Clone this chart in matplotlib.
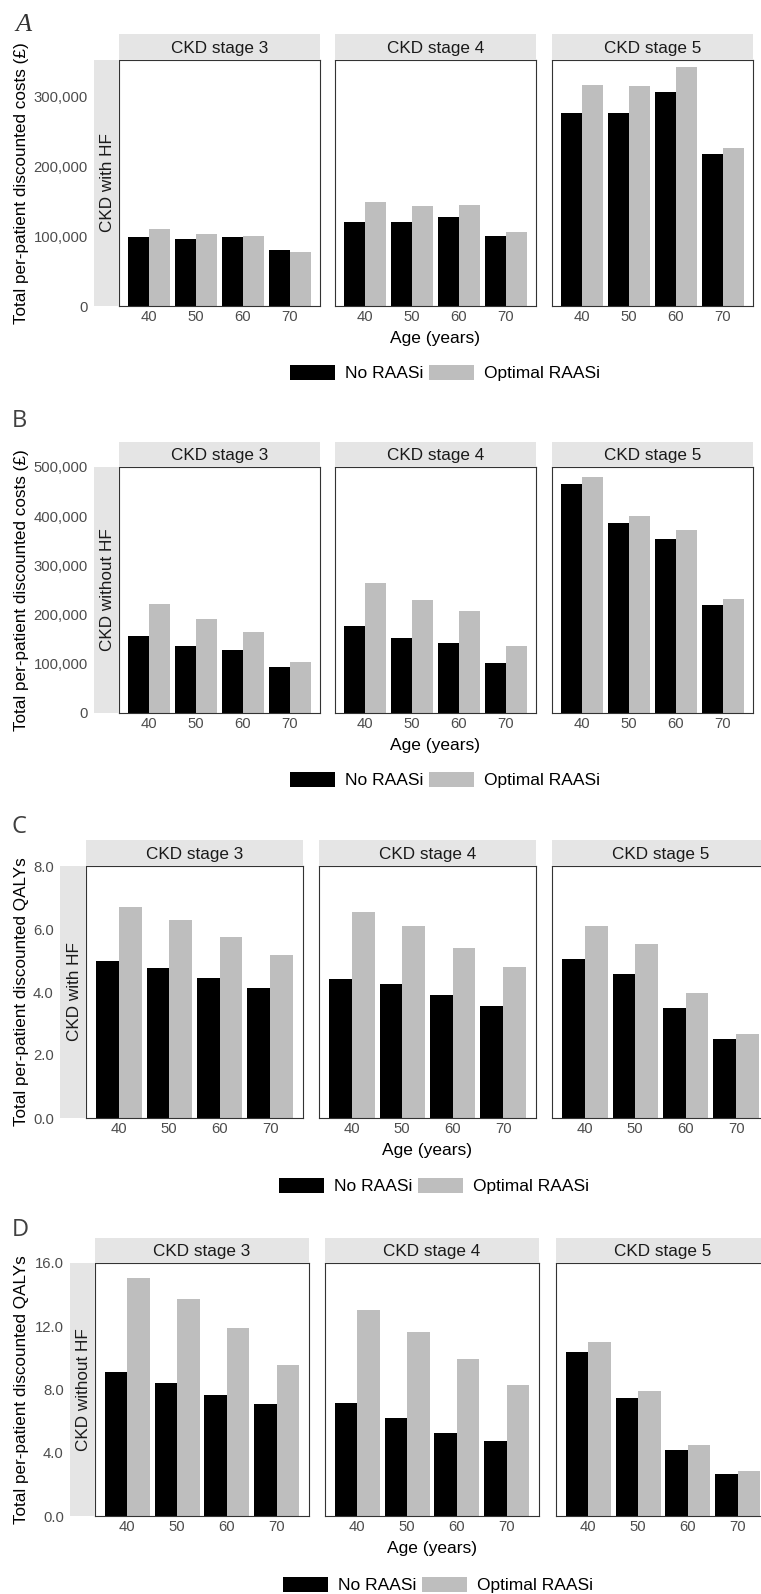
import numpy as np
import matplotlib
matplotlib.use("Agg")
import matplotlib.pyplot as plt
from matplotlib.patches import Patch

plt.rcParams["font.family"] = ["Liberation Sans", "DejaVu Sans"]

W, H = 761, 1594

ages = ["40", "50", "60", "70"]
stages = ["CKD stage 3", "CKD stage 4", "CKD stage 5"]
series = ["No RAASi", "Optimal RAASi"]
colors = ["#000000", "#bebebe"]

# A: costs (GBP), CKD with HF -- one row per CKD stage, values by age 40..70
a_no = [[99400, 96100, 99000, 80000],
        [120900, 120000, 128000, 100400],
        [275700, 275700, 306000, 217600]]
a_opt = [[110400, 103300, 100000, 76600],
         [149400, 143300, 144700, 105700],
         [315700, 314700, 341400, 225700]]

# B: costs (GBP), CKD without HF
b_no = [[157000, 136800, 128700, 93500],
        [176000, 152000, 142000, 101000],
        [466000, 387000, 354000, 219000]]
b_opt = [[221500, 191000, 164600, 102800],
         [265000, 229000, 208000, 137000],
         [480000, 400000, 371000, 231000]]

# C: QALYs, CKD with HF
c_no = [[4.99, 4.77, 4.45, 4.14],
        [4.41, 4.25, 3.89, 3.56],
        [5.04, 4.58, 3.49, 2.51]]
c_opt = [[6.69, 6.30, 5.74, 5.17],
         [6.53, 6.10, 5.41, 4.78],
         [6.11, 5.52, 3.98, 2.67]]

# D: QALYs, CKD without HF
d_no = [[9.09, 8.40, 7.64, 7.07],
        [7.13, 6.22, 5.23, 4.73],
        [10.40, 7.47, 4.18, 2.68]]
d_opt = [[15.04, 13.73, 11.88, 9.56],
         [13.04, 11.63, 9.94, 8.27],
         [11.01, 7.91, 4.49, 2.83]]

cost_ticks_a = [0, 100000, 200000, 300000]
cost_ticks_b = [0, 100000, 200000, 300000, 400000, 500000]
qaly_ticks_c = [0, 2, 4, 6, 8]
qaly_ticks_d = [0, 4, 8, 12, 16]

STRIP = "#e5e5e5"
TICK_COL = "#4d4d4d"


def px(x0, y0, w, h):
    return [x0 / W, 1 - (y0 + h) / H, w / W, h / H]


fig = plt.figure(figsize=(W / 100, H / 100), dpi=100)


def draw(no, opt, yticks, fmt, ylim, row_label, ylabel, lefts, width, top,
         bottom, strip_h, legend_y, legend_x):
    h = bottom - top
    x = np.arange(1, len(ages) + 1)
    for i, stage in enumerate(stages):
        ax = fig.add_axes(px(lefts[i], top, width, h))
        ax.bar(x - 0.225, no[i], 0.45, color=colors[0])
        ax.bar(x + 0.225, opt[i], 0.45, color=colors[1])
        ax.set_xlim(0.35, 4.65)
        ax.set_ylim(0, ylim)
        ax.set_xticks(x, ages)
        ax.tick_params(length=0, labelsize=10.7, labelcolor=TICK_COL, pad=3)
        for s in ax.spines.values():
            s.set_color("#333333")
            s.set_linewidth(0.8)
        if i == 0:
            ax.set_yticks(yticks, [fmt(v) for v in yticks])
            ax.tick_params(axis="y", pad=(lefts[0] - strip_x[0]) * 0.72 + 4.5)
        else:
            ax.set_yticks([])

        st = fig.add_axes(px(lefts[i], top - strip_h, width, strip_h))
        st.set_facecolor(STRIP)
        st.set_xticks([])
        st.set_yticks([])
        for s in st.spines.values():
            s.set_visible(False)
        st.text(0.5, 0.45, stage, ha="center", va="center", fontsize=12.3,
                color="#1a1a1a", transform=st.transAxes)

    # row strip on the left of the first facet
    rs = fig.add_axes(px(strip_x[0], top, lefts[0] - strip_x[0], h))
    rs.set_facecolor(STRIP)
    rs.set_xticks([])
    rs.set_yticks([])
    for s in rs.spines.values():
        s.set_visible(False)
    rs.text(0.55, 0.5, row_label, rotation=90, ha="center", va="center",
            fontsize=12.3, color="#1a1a1a", transform=rs.transAxes)

    fig.text(22 / W, 1 - (top + h / 2) / H, ylabel, rotation=90,
             ha="center", va="center", fontsize=12.3)
    fig.text((lefts[1] + width / 2) / W, 1 - (bottom + 33) / H, "Age (years)",
             ha="center", va="center", fontsize=12.5)

    handles = [Patch(facecolor=c, edgecolor="none") for c in colors]
    fig.legend(handles, series, loc="center left", ncol=2, frameon=False,
               bbox_to_anchor=(legend_x / W, 1 - legend_y / H),
               fontsize=12.5, handlelength=2.6, handleheight=1.0,
               handletextpad=0.55, columnspacing=0.35, borderpad=0,
               borderaxespad=0)


strip_x = [94]
draw(a_no, a_opt, cost_ticks_a, lambda v: f"{v:,}", 352000, "CKD with HF",
     "Total per-patient discounted costs (£)", [119, 335, 552], 201,
     60, 306, 26, 373, 290)
draw(b_no, b_opt, cost_ticks_b, lambda v: f"{v:,}", 500000, "CKD without HF",
     "Total per-patient discounted costs (£)", [119, 335, 552], 201,
     467, 713, 25, 780, 290)
strip_x = [60]
draw(c_no, c_opt, qaly_ticks_c, lambda v: f"{v:.1f}", 8, "CKD with HF",
     "Total per-patient discounted QALYs", [86, 319, 552], 217,
     866, 1118, 26, 1186, 279)
strip_x = [70]
draw(d_no, d_opt, qaly_ticks_d, lambda v: f"{v:.1f}", 16, "CKD without HF",
     "Total per-patient discounted QALYs", [95, 325, 556], 214,
     1263, 1516, 25, 1585, 283)

# panel letters
fig.text(15 / W, 1 - 31 / H, "A", family="Liberation Serif", style="italic",
         fontsize=19, color="#333333", va="baseline")
for letter, base in [("B", 427), ("C", 833), ("D", 1236)]:
    fig.text(12 / W, 1 - base / H, letter, family="Open Sans", fontsize=17,
             color="#404040", va="baseline")

fig.savefig("out.png", dpi=100)
